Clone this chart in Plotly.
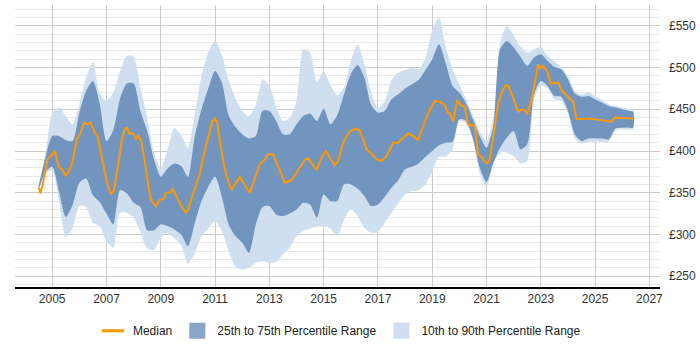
import plotly.graph_objects as go

# Median series (decimal year, £)
med_years = [2004.51, 2004.57, 2004.67, 2004.83, 2005.10, 2005.25, 2005.37, 2005.50, 2005.63, 2005.75,
             2005.90, 2006.02, 2006.18, 2006.30, 2006.41, 2006.57, 2006.67, 2006.82, 2007.00, 2007.16,
             2007.28, 2007.43, 2007.56, 2007.68, 2007.76, 2007.84, 2007.98, 2008.08, 2008.17, 2008.26,
             2008.39, 2008.51, 2008.62, 2008.75, 2008.82, 2008.94, 2009.11, 2009.18, 2009.34, 2009.43,
             2009.52, 2009.64, 2009.77, 2009.92, 2010.01, 2010.13, 2010.32, 2010.44, 2010.59, 2010.75,
             2010.89, 2010.99, 2011.08, 2011.20, 2011.32, 2011.42, 2011.55, 2011.61, 2011.79, 2011.91,
             2012.10, 2012.28, 2012.40, 2012.65, 2012.83, 2012.96, 2013.14, 2013.36, 2013.57, 2013.82,
             2014.06, 2014.31, 2014.43, 2014.59, 2014.74, 2014.92, 2015.08, 2015.23, 2015.41, 2015.53,
             2015.74, 2015.97, 2016.21, 2016.33, 2016.58, 2016.76, 2016.95, 2017.13, 2017.32, 2017.56,
             2017.74, 2017.93, 2018.11, 2018.30, 2018.48, 2018.67, 2018.85, 2019.10, 2019.28, 2019.46,
             2019.55, 2019.65, 2019.77, 2019.92, 2020.05, 2020.20, 2020.32, 2020.57, 2020.69, 2020.82,
             2020.94, 2021.02, 2021.12, 2021.24, 2021.43, 2021.55, 2021.70, 2021.80, 2021.92, 2022.04,
             2022.16, 2022.29, 2022.41, 2022.50, 2022.60, 2022.72, 2022.90, 2022.96, 2023.08, 2023.23,
             2023.37, 2023.64, 2023.76, 2024.19, 2024.32, 2024.80, 2025.60, 2025.73, 2026.40]
median = [356, 349, 363, 390, 400, 380, 378, 370, 377, 386,
          414, 420, 434, 432, 434, 422, 418, 392, 365, 348,
          353, 384, 412, 427, 428, 421, 421, 414, 418, 414,
          392, 365, 343, 337, 334, 341, 343, 350, 350, 355,
          349, 343, 333, 326, 330, 343, 361, 373, 396, 416,
          435, 439, 434, 408, 384, 371, 357, 354, 363, 369,
          359, 350, 361, 384, 390, 396, 396, 379, 362, 365,
          377, 390, 391, 384, 377, 392, 400, 392, 383, 388,
          412, 424, 427, 424, 402, 397, 390, 388, 394, 410,
          410, 416, 421, 418, 413, 430, 446, 460, 459, 455,
          447, 445, 436, 461, 455, 453, 432, 430, 396, 393,
          387, 385, 390, 416, 457, 469, 479, 478, 469, 459,
          447, 450, 449, 444, 455, 471, 504, 499, 502, 496,
          481, 482, 473, 459, 438, 439, 435, 440, 439]

# Percentile bands (quarterly, £)
band_years = [2004.5, 2004.75, 2005.0, 2005.25, 2005.5, 2005.75, 2006.0, 2006.25, 2006.5, 2006.75,
              2007.0, 2007.25, 2007.5, 2007.75, 2008.0, 2008.25, 2008.5, 2008.75, 2009.0, 2009.25,
              2009.5, 2009.75, 2010.0, 2010.25, 2010.5, 2010.75, 2011.0, 2011.25, 2011.5, 2011.75,
              2012.0, 2012.25, 2012.5, 2012.75, 2013.0, 2013.25, 2013.5, 2013.75, 2014.0, 2014.25,
              2014.5, 2014.75, 2015.0, 2015.25, 2015.5, 2015.75, 2016.0, 2016.25, 2016.5, 2016.75,
              2017.0, 2017.25, 2017.5, 2017.75, 2018.0, 2018.25, 2018.5, 2018.75, 2019.0, 2019.25,
              2019.5, 2019.75, 2020.0, 2020.25, 2020.5, 2020.75, 2021.0, 2021.25, 2021.5, 2021.75,
              2022.0, 2022.25, 2022.5, 2022.75, 2023.0, 2023.25, 2023.5, 2023.75, 2024.0, 2024.25,
              2024.5, 2024.75, 2025.0, 2025.25, 2025.5, 2025.75, 2026.0, 2026.25, 2026.4]
p10 = [352, 372, 377, 340, 297, 307, 334, 333, 314, 310,
       292, 284, 326, 326, 320, 303, 283, 281, 296, 302,
       295, 287, 265, 277, 298, 307, 316, 304, 280, 262,
       258, 260, 266, 268, 266, 267, 276, 284, 298, 304,
       307, 310, 310, 307, 298, 318, 330, 322, 308, 302,
       303, 314, 326, 337, 348, 352, 353, 360, 375, 393,
       393, 402, 436, 433, 412, 373, 357, 384, 398, 398,
       394, 385, 388, 462, 478, 475, 462, 460, 445, 415,
       409, 411, 411, 411, 411, 425, 426, 426, 426]
p25 = [353, 375, 381, 352, 321, 335, 362, 367, 347, 339,
       325, 312, 353, 349, 338, 333, 305, 305, 312, 310,
       306, 300, 286, 313, 340, 357, 369, 345, 312, 298,
       290, 278, 312, 333, 334, 324, 322, 325, 330, 338,
       336, 320, 348, 340, 340, 360, 360, 355, 346, 334,
       336, 345, 356, 365, 378, 381, 385, 393, 400, 407,
       410, 411, 438, 436, 415, 380, 363, 386, 404, 416,
       424, 402, 408, 468, 484, 478, 466, 465, 448, 420,
       412, 415, 415, 415, 414, 427, 428, 428, 428]
p75 = [358, 392, 418, 418, 413, 412, 446, 472, 484, 457,
       412, 425, 463, 481, 481, 448, 424, 390, 369, 379,
       385, 382, 369, 417, 450, 475, 496, 482, 443, 429,
       420, 415, 418, 448, 448, 436, 420, 420, 432, 442,
       445, 436, 451, 432, 443, 468, 492, 503, 488, 455,
       446, 448, 462, 468, 475, 480, 485, 497, 510, 528,
       505, 478, 470, 457, 438, 418, 404, 430, 522, 532,
       524, 513, 502, 512, 516, 508, 501, 498, 486, 469,
       465, 466, 462, 458, 454, 452, 450, 448, 447]
p90 = [359, 396, 445, 452, 442, 432, 456, 488, 507, 469,
       460, 470, 496, 514, 513, 476, 440, 398, 379, 402,
       428, 419, 404, 444, 490, 518, 532, 515, 485, 463,
       448, 442, 455, 486, 478, 453, 436, 440, 460, 522,
       518, 483, 496, 479, 467, 476, 508, 528, 505, 470,
       452, 460, 485, 494, 497, 500, 498, 512, 545, 560,
       525, 498, 480, 462, 443, 424, 412, 440, 530, 550,
       538, 525, 518, 522, 525, 514, 508, 500, 490, 472,
       468, 470, 466, 461, 456, 454, 452, 450, 449]

x_ticks = [2005, 2007, 2009, 2011, 2013, 2015, 2017, 2019, 2021, 2023, 2025, 2027]

ORANGE = "#ff9900"
DARK = "rgba(20,75,145,0.5)"
LIGHT = "#d0dfef"

fig = go.Figure()

# 10th-90th band
fig.add_trace(go.Scatter(
    x=band_years + band_years[::-1], y=p90 + p10[::-1],
    fill="toself", fillcolor=LIGHT, mode="lines",
    line=dict(width=0, shape="spline", smoothing=0.7),
    showlegend=False, hoverinfo="skip"))
# 25th-75th band
fig.add_trace(go.Scatter(
    x=band_years + band_years[::-1], y=p75 + p25[::-1],
    fill="toself", fillcolor=DARK, mode="lines",
    line=dict(width=0, shape="spline", smoothing=0.7),
    showlegend=False, hoverinfo="skip"))
# Median
fig.add_trace(go.Scatter(
    x=med_years, y=median, mode="lines", line=dict(color=ORANGE, width=2),
    showlegend=False))

# Legend entries
fig.add_trace(go.Scatter(x=[None], y=[None], mode="markers", name="Median",
                         marker=dict(symbol="line-ew-open", size=16, color=ORANGE,
                                     line=dict(color=ORANGE, width=3))))
fig.add_trace(go.Scatter(x=[None], y=[None], mode="markers", name="25th to 75th Percentile Range",
                         marker=dict(symbol="square", size=17, color=DARK, line=dict(width=0))))
fig.add_trace(go.Scatter(x=[None], y=[None], mode="markers", name="10th to 90th Percentile Range",
                         marker=dict(symbol="square", size=17, color=LIGHT, line=dict(width=0))))

fig.update_layout(
    width=700, height=350,
    margin=dict(l=15, r=40, t=5, b=58),
    paper_bgcolor="white", plot_bgcolor="white",
    font=dict(family="Liberation Sans, Arial, sans-serif", size=12, color="#333"),
    legend=dict(orientation="h", x=0.503, xanchor="center", y=-0.155, yanchor="middle",
                font=dict(size=12, color="#222"), itemwidth=30, tracegroupgap=0),
    xaxis=dict(range=[2003.63, 2027.39], tickvals=x_ticks, ticktext=[str(t) for t in x_ticks],
               showgrid=True, gridcolor="#cccccc", gridwidth=1,
               showline=True, linecolor="#000", linewidth=1.5, ticks="", zeroline=False,
               fixedrange=True),
    yaxis=dict(range=[237, 575], side="right", dtick=50, tick0=250, tickprefix="£",
               showgrid=True, gridcolor="#cccccc", gridwidth=1, zeroline=False, ticks="",
               minor=dict(dtick=10, tick0=250, showgrid=True, gridcolor="#e8e8e8", gridwidth=1),
               fixedrange=True, ticklabelstandoff=8),
)

fig.write_html("out.html")
